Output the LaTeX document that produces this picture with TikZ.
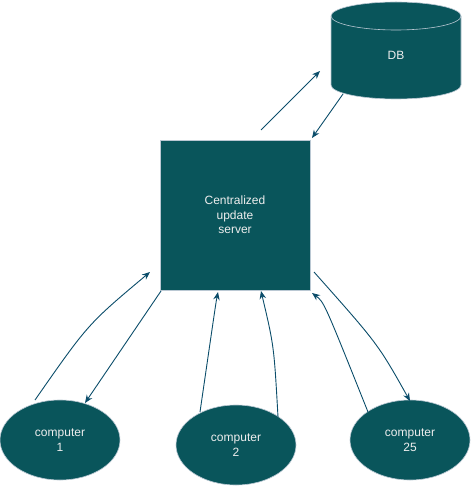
\documentclass[tikz,border=0pt]{standalone}
\usepackage{fontspec}
\setmainfont{Liberation Sans}
\usetikzlibrary{shapes.geometric,arrows.meta}
\definecolor{shapefill}{HTML}{09555B}
\definecolor{shapeline}{HTML}{BAC8D3}
\definecolor{shapetext}{HTML}{EEEEEE}
\definecolor{arrowcol}{HTML}{0B4D6A}
\begin{document}
\begin{tikzpicture}[x=1pt,y=-1pt,
  boxshape/.style={draw=shapeline, line width=0.6pt, fill=shapefill, text=shapetext, font=\fontsize{12}{14.5}\selectfont, align=center, inner sep=0pt},
  ellshape/.style={boxshape, ellipse, minimum width=120pt, minimum height=80pt},
  conn/.style={draw=arrowcol, line width=0.9pt, -{Stealth[length=8pt,width=6.5pt]}}]
\useasboundingbox (0,0) rectangle (471,486);
% server
\node[boxshape, minimum width=150pt, minimum height=150pt] (srv) at (235,215) {Centralized\\update\\server};
% DB cylinder
\path[fill=shapefill, draw=shapeline, line width=0.6pt] (331,16) -- (331,85) arc[start angle=180,end angle=0,x radius=65,y radius=14] -- (461,16) arc[start angle=0,end angle=-180,x radius=65,y radius=14] -- cycle;
\draw[shapeline, line width=0.6pt] (331,16) arc[start angle=180,end angle=0,x radius=65,y radius=14];
\node[text=shapetext, font=\fontsize{12}{14.5}\selectfont] (db) at (396,55) {DB};
% computers
\node[ellshape] (c1) at (60,440) {computer\\1};
\node[ellshape] (c2) at (236,445) {computer\\2};
\node[ellshape] (c25) at (410,440) {computer\\25};
% connector end points
\coordinate (a1s) at (35,400);  \coordinate (a1e) at (150,272);
\coordinate (a2s) at (161,291); \coordinate (a2e) at (85,403);
\coordinate (a3s) at (200,412); \coordinate (a3e) at (218,292);
\coordinate (a4s) at (278,417); \coordinate (a4e) at (261,291);
\coordinate (a5s) at (368,412); \coordinate (a5e) at (312,293);
\coordinate (a6s) at (314,272); \coordinate (a6e) at (410,401);
\coordinate (a7s) at (261,130); \coordinate (a7e) at (320,71);
\coordinate (a8s) at (343,94);  \coordinate (a8e) at (312,138);
\path[conn] (a1s) .. controls (88,324) .. (a1e);
\path[conn] (a2s) -- (a2e);
\path[conn] (a3s) .. controls (216,302) .. (a3e);
\path[conn] (a4s) .. controls (274,346) .. (a4e);
\path[conn] (a5s) .. controls (324,302) .. (a5e);
\path[conn] (a6s) .. controls (378,344) .. (a6e);
\path[conn] (a7s) -- (a7e);
\path[conn] (a8s) -- (a8e);
\end{tikzpicture}
\end{document}
